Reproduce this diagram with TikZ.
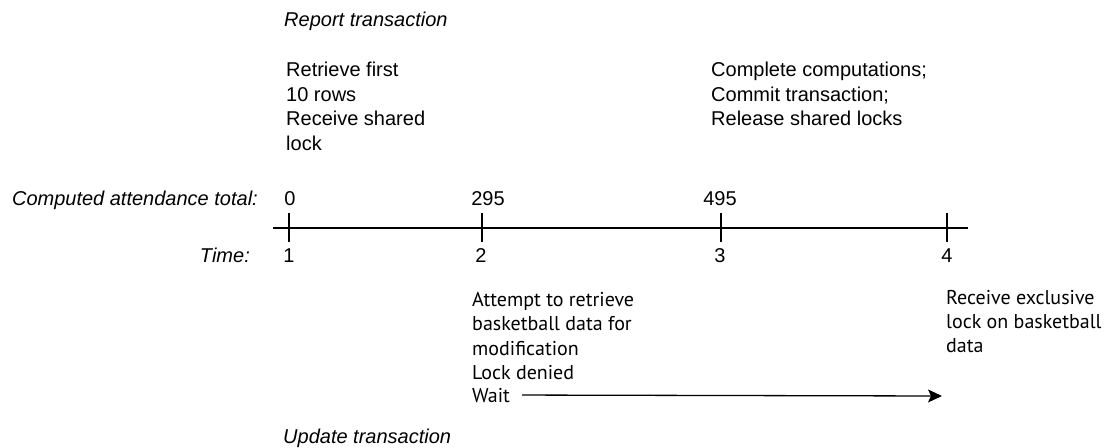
\documentclass[tikz,border=0pt]{standalone}
\usepackage{fontspec}
\setmainfont{Liberation Sans}
\newfontfamily\myriad{PT Sans}
\usetikzlibrary{arrows.meta}
\begin{document}
\begin{tikzpicture}[x=1pt,y=-1pt,
  lbl/.style={inner sep=0pt,font=\fontsize{20}{24.5}\selectfont},
  ilbl/.style={lbl,font=\fontsize{20}{24.5}\selectfont\itshape},
  block/.style={lbl,align=left,anchor=north west},
  mblock/.style={inner sep=0pt,align=left,anchor=north west,font=\myriad\fontsize{20}{24.3}\selectfont},
  mlbl/.style={inner sep=0pt,font=\myriad\fontsize{20}{24.3}\selectfont},
  axis/.style={line width=1.6pt},
  tick/.style={line width=1.1pt},
  waitarrow/.style={line width=1.3pt,-{Stealth[length=14pt,width=13pt,inset=3pt]}}
]
\useasboundingbox (0,0) rectangle (1107,447);

% timeline
\coordinate (axL) at (273,228);
\coordinate (axR) at (968,228);
\draw[axis] (axL) -- (axR);
\foreach \n/\x in {1/289,2/482,3/721,4/947}{
  \coordinate (t\n top) at (\x,213);
  \coordinate (t\n bot) at (\x,242);
  \draw[tick] (t\n top) -- (t\n bot);
}

% row labels
\node[ilbl,anchor=base east] (cat) at (258,205) {Computed attendance total:};
\node[ilbl,anchor=base east] (time) at (250,262) {Time:};

% values above
\node[lbl,anchor=base] (v0) at (290,205) {0};
\node[lbl,anchor=base] (v1) at (488,205) {295};
\node[lbl,anchor=base] (v2) at (720,205) {495};

% times below
\node[lbl,anchor=base] (n1) at (289,262) {1};
\node[lbl,anchor=base] (n2) at (481,262) {2};
\node[lbl,anchor=base] (n3) at (720,262) {3};
\node[lbl,anchor=base] (n4) at (947,262) {4};

% report transaction
\node[ilbl,anchor=base west] (report) at (284,27) {Report transaction};
\node[block] (retr) at (286,62) {Retrieve first\\10 rows\\Receive shared\\lock};
\node[block] (compl) at (711,62) {Complete computations;\\Commit transaction;\\Release shared locks};

% update transaction
\node[mblock] (attempt) at (472,292) {Attempt to retrieve\\basketball data for\\modification\\Lock denied};
\node[mlbl,anchor=base west] (wait) at (472,402) {Wait};
\coordinate (waitend) at (942,396);
\draw[waitarrow] ([xshift=12pt]wait.east) -- (waitend);
\node[mblock] (excl) at (946,290) {Receive exclusive\\lock on basketball\\data};
\node[ilbl,anchor=base west] (update) at (283,443) {Update transaction};
\end{tikzpicture}
\end{document}
